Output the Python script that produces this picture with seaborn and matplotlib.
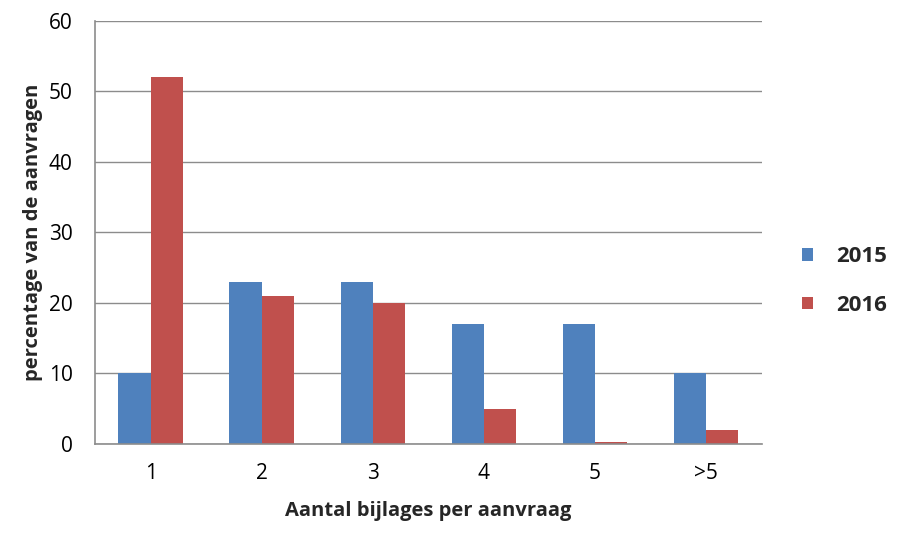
import pandas as pd
import numpy as np
import matplotlib.pyplot as plt
import seaborn as sns

categories = ['1', '2', '3', '4', '5', '>5']
years = ['2015', '2016']
values_2015 = [10, 23, 23, 17, 17, 10]
values_2016 = [52, 21, 20, 5, 0.3, 2]

sns.set_theme(style='white')
plt.rcParams['font.family'] = ['Open Sans', 'DejaVu Sans']

df = pd.DataFrame({
    'categorie': categories * 2,
    'jaar': [years[0]] * len(categories) + [years[1]] * len(categories),
    'waarde': values_2015 + values_2016,
})

fig = plt.figure(figsize=(8.97, 5.33), dpi=100)
ax = fig.add_axes([0.106, 0.167, 0.743, 0.794])

palette = {'2015': '#4F81BD', '2016': '#C0504D'}
sns.barplot(data=df, x='categorie', y='waarde', hue='jaar', palette=palette,
            width=0.58, saturation=1, edgecolor='none', ax=ax, legend=True)

ax.set_ylim(0, 60)
ax.set_xlim(-0.5, 5.5)
ax.set_yticks(range(0, 61, 10))
ax.yaxis.grid(True, color='#8c8c8c', linewidth=1)
ax.set_axisbelow(True)

for side in ['top', 'right']:
    ax.spines[side].set_visible(False)
for side in ['left', 'bottom']:
    ax.spines[side].set_color('#8c8c8c')
    ax.spines[side].set_linewidth(1.2)

ax.set_xticks(np.arange(-0.5, 6, 1), minor=True)
ax.tick_params(axis='x', which='major', length=0, labelsize=15, pad=14, colors='black')
ax.tick_params(axis='x', which='minor', length=6, width=1.2, color='#8c8c8c', direction='out')
ax.tick_params(axis='y', which='major', length=6, width=1.2, direction='out',
               labelsize=15, pad=10, colors='black')
ax.tick_params(axis='y', which='major', color='#8c8c8c')

ax.set_xlabel('Aantal bijlages per aanvraag', fontsize=14.5, fontweight='bold', labelpad=12)
ax.set_ylabel('percentage van de aanvragen', fontsize=14.5, fontweight='bold', labelpad=4)

handles, labels = ax.get_legend_handles_labels()
ax.legend(handles, labels, loc='center left', bbox_to_anchor=(1.06, 0.385), frameon=False,
          prop={'weight': 'bold', 'size': 16}, handlelength=0.5, handleheight=0.5,
          labelspacing=1.25, handletextpad=1.05, borderaxespad=0, borderpad=0)

fig.savefig('out.png', dpi=100)
